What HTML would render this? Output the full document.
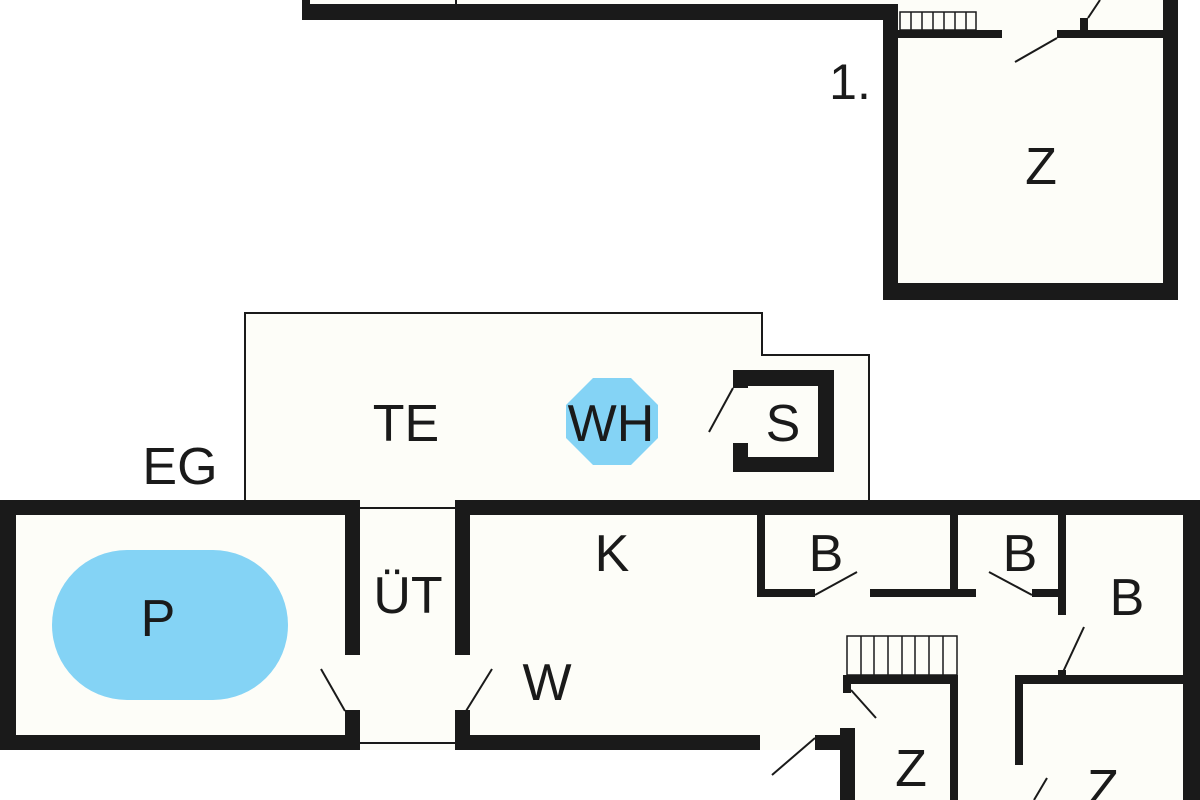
<!DOCTYPE html>
<html><head><meta charset="utf-8"><style>
html,body{margin:0;padding:0;background:#fff}
svg{display:block}
text{font-family:"Liberation Sans",sans-serif;font-size:52px;fill:#1a1a1a;text-anchor:middle}
</style></head><body>
<svg width="1200" height="800" viewBox="0 0 1200 800" xmlns="http://www.w3.org/2000/svg">
<!-- fills -->
<g fill="#fdfdf8">
<rect x="302" y="0" width="596" height="12"/>
<rect x="890" y="0" width="280" height="292"/>
<polygon points="245,313 762,313 762,355 869,355 869,505 245,505"/>
<rect x="0" y="500" width="1200" height="250"/>
<rect x="840" y="740" width="360" height="60"/>
</g>
<!-- pool & WH -->
<rect x="52" y="550" width="236" height="150" rx="75" fill="#84d3f5"/>
<polygon points="593,378 631,378 658,405 658,438 631,465 593,465 566,438 566,405" fill="#84d3f5"/>
<!-- thin outlines -->
<g fill="none" stroke="#1a1a1a" stroke-width="2">
<polyline points="245,505 245,313 762,313 762,355 869,355 869,502"/>
<line x1="358" y1="508" x2="458" y2="508"/>
<line x1="358" y1="743" x2="458" y2="743"/>
<line x1="456" y1="0" x2="456" y2="6"/>
</g>
<!-- thick walls -->
<g fill="#1a1a1a">
<rect x="302" y="0" width="8" height="20"/>
<rect x="302" y="4" width="596" height="16"/>
<rect x="883" y="4" width="15" height="296"/>
<rect x="883" y="283" width="295" height="17"/>
<rect x="1163" y="0" width="15" height="300"/>
<rect x="898" y="30" width="104" height="8"/>
<rect x="1057" y="30" width="106" height="8"/>
<rect x="1080" y="18" width="8" height="14"/>
<!-- S box -->
<rect x="733" y="370" width="101" height="16"/>
<rect x="818" y="370" width="16" height="102"/>
<rect x="733" y="457" width="101" height="15"/>
<rect x="733" y="370" width="15" height="18"/>
<rect x="733" y="443" width="15" height="29"/>
<!-- main block -->
<rect x="0" y="500" width="360" height="15"/>
<rect x="455" y="500" width="745" height="15"/>
<rect x="0" y="500" width="16" height="250"/>
<rect x="0" y="735" width="360" height="15"/>
<rect x="345" y="500" width="15" height="155"/>
<rect x="345" y="710" width="15" height="40"/>
<rect x="455" y="500" width="15" height="155"/>
<rect x="455" y="710" width="15" height="40"/>
<rect x="455" y="735" width="305" height="15"/>
<rect x="815" y="735" width="40" height="15"/>
<rect x="840" y="728" width="15" height="72"/>
<!-- B rooms -->
<rect x="757" y="515" width="8" height="82"/>
<rect x="757" y="589" width="58" height="8"/>
<rect x="870" y="589" width="106" height="8"/>
<rect x="950" y="515" width="8" height="82"/>
<rect x="1032" y="589" width="34" height="8"/>
<rect x="1058" y="515" width="8" height="100"/>
<rect x="1183" y="500" width="17" height="300"/>
<rect x="1015" y="675" width="168" height="9"/>
<rect x="1015" y="675" width="8" height="90"/>
<rect x="1058" y="670" width="8" height="8"/>
<!-- Z middle -->
<rect x="843" y="675" width="115" height="9"/>
<rect x="950" y="675" width="8" height="125"/>
<rect x="843" y="675" width="8" height="18"/>
</g>
<!-- stairs -->
<g fill="none" stroke="#1a1a1a" stroke-width="1.5">
<rect x="900" y="12" width="76" height="18"/>
<path d="M911 12V30M922 12V30M933 12V30M944 12V30M955 12V30M966 12V30"/>
<rect x="847" y="636" width="110" height="39"/>
<path d="M861 636V675M874 636V675M888 636V675M902 636V675M915 636V675M929 636V675M943 636V675"/>
</g>
<!-- door swings -->
<g stroke="#1a1a1a" stroke-width="2">
<line x1="1057" y1="38" x2="1015" y2="62"/>
<line x1="1088" y1="18" x2="1100" y2="0"/>
<line x1="733" y1="388" x2="709" y2="432"/>
<line x1="345" y1="711" x2="321" y2="669"/>
<line x1="466" y1="711" x2="492" y2="669"/>
<line x1="815" y1="595" x2="857" y2="572"/>
<line x1="1032" y1="595" x2="989" y2="572"/>
<line x1="1063" y1="672" x2="1084" y2="627"/>
<line x1="851" y1="690" x2="876" y2="718"/>
<line x1="815" y1="738" x2="772" y2="775"/>
<line x1="1047" y1="778" x2="1034" y2="800"/>
</g>
<!-- labels -->
<text x="850" y="99" style="font-size:50px">1.</text>
<text x="1041" y="184">Z</text>
<text x="406" y="441">TE</text>
<text x="611" y="441">WH</text>
<text x="783" y="441">S</text>
<text x="180" y="484">EG</text>
<text x="612" y="571">K</text>
<text x="826" y="571">B</text>
<text x="1020" y="571">B</text>
<text x="1127" y="615">B</text>
<text x="408" y="613">ÜT</text>
<text x="158" y="636">P</text>
<text x="547" y="700">W</text>
<text x="911" y="786">Z</text>
<text x="1103" y="806">Z</text>
</svg>
</body></html>
